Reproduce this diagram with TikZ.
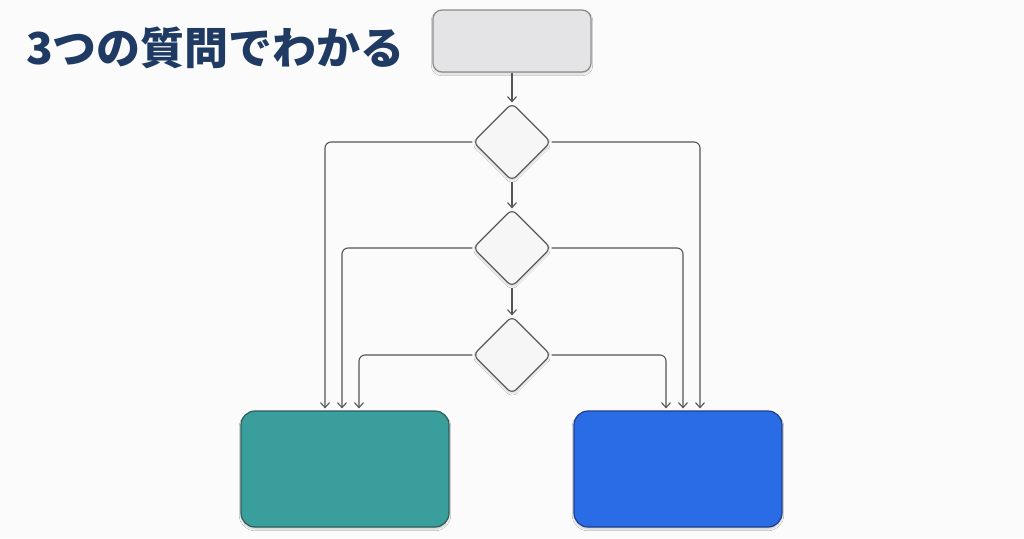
\documentclass[tikz,border=0pt]{standalone}
\usepackage{fontspec}
\newfontfamily\cjk{Noto Sans CJK JP}
\usetikzlibrary{shapes.geometric,arrows.meta,shadows.blur}
\definecolor{bgc}{HTML}{FBFBFB}
\definecolor{titlec}{HTML}{1F3B63}
\definecolor{linec}{HTML}{555555}
\definecolor{startfill}{HTML}{E4E4E6}
\definecolor{startdraw}{HTML}{8A8A8A}
\definecolor{diafill}{HTML}{F6F6F7}
\definecolor{diadraw}{HTML}{5A5A5A}
\definecolor{greenc}{HTML}{3A9E9C}
\definecolor{greend}{HTML}{2C5E5C}
\definecolor{bluec}{HTML}{2A6BE6}
\definecolor{blued}{HTML}{1F3F8A}
\tikzset{
  startbox/.style={draw=startdraw, fill=startfill, line width=1.2pt, rounded corners=9pt,
    minimum width=158pt, minimum height=62pt, inner sep=0pt,
    blur shadow={shadow xshift=0pt, shadow yshift=-2pt, shadow blur steps=6, shadow opacity=15}},
  question/.style={diamond, draw=diadraw, fill=diafill, line width=1.2pt, rounded corners=6pt,
    minimum width=78pt, minimum height=78pt, inner sep=0pt,
    blur shadow={shadow xshift=0pt, shadow yshift=-2pt, shadow blur steps=6, shadow opacity=15}},
  result/.style={rounded corners=14pt, line width=1.2pt,
    minimum width=208pt, minimum height=116pt, inner sep=0pt,
    blur shadow={shadow xshift=0pt, shadow yshift=-2pt, shadow blur steps=6, shadow opacity=20}},
  conn/.style={draw=linec, line width=1.1pt, rounded corners=6pt,
    -{Straight Barb[length=5pt,width=9pt,line width=1.1pt]}},
}
\begin{document}
\begin{tikzpicture}[x=1pt,y=-1pt]
\fill[bgc] (0,0) rectangle (1024,538);
\useasboundingbox (0,0) rectangle (1024,538);
\node[anchor=west, text=titlec, font=\cjk\bfseries\fontsize{44}{50}\selectfont, inner sep=0pt] (title) at (26,48) {3つの質問でわかる};
\node[startbox] (start) at (512,41) {};
\node[question] (q1) at (512,142) {};
\node[question] (q2) at (512,248) {};
\node[question] (q3) at (512,355) {};
\node[result, draw=greend, fill=greenc] (green) at (345,469) {};
\node[result, draw=blued, fill=bluec] (blue) at (678,469) {};
\draw[conn] (start.south) -- (q1.north);
\draw[conn] (q1.south) -- (q2.north);
\draw[conn] (q2.south) -- (q3.north);
\draw[conn] (q1.west) -| ([xshift=-20pt,yshift=2pt]green.north);
\draw[conn] (q2.west) -| ([xshift=-3pt,yshift=2pt]green.north);
\draw[conn] (q3.west) -| ([xshift=14pt,yshift=2pt]green.north);
\draw[conn] (q1.east) -| ([xshift=22pt,yshift=2pt]blue.north);
\draw[conn] (q2.east) -| ([xshift=5pt,yshift=2pt]blue.north);
\draw[conn] (q3.east) -| ([xshift=-12pt,yshift=2pt]blue.north);
\end{tikzpicture}
\end{document}
